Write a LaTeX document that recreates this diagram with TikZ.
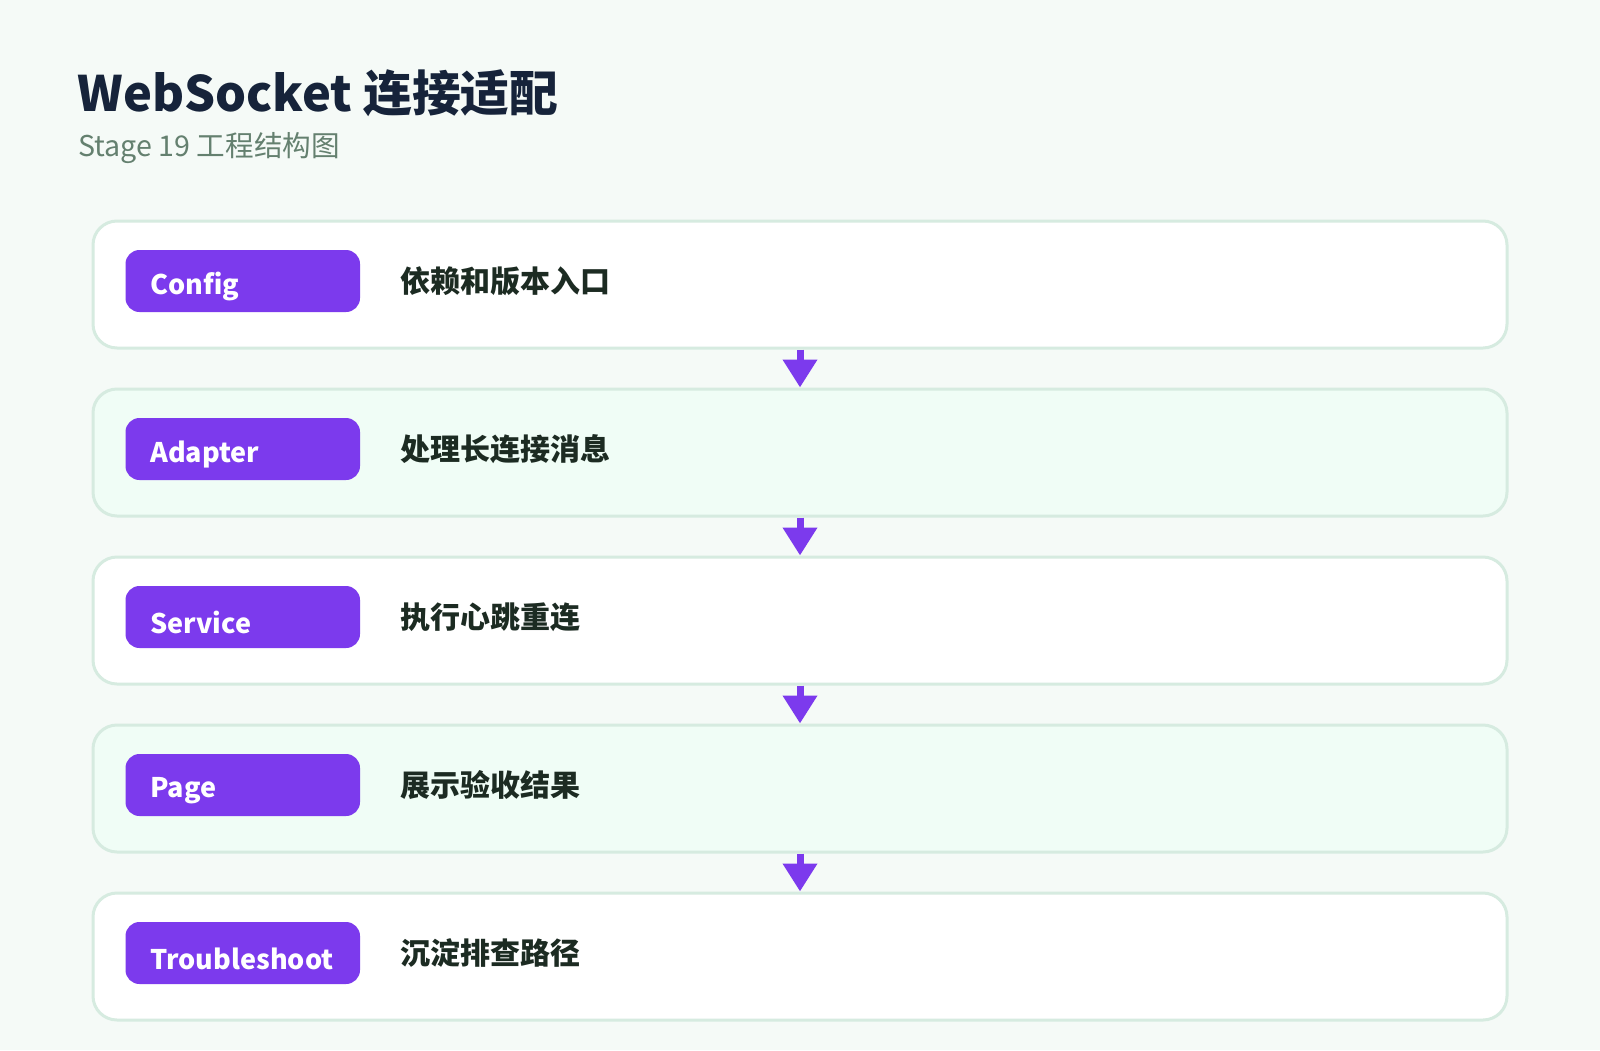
\documentclass[tikz,border=0pt]{standalone}
\usepackage{fontspec}
\setmainfont{Noto Sans CJK SC}
\usetikzlibrary{arrows.meta}
\definecolor{bg}{HTML}{F5FAF7}
\definecolor{cardmint}{HTML}{F0FDF6}
\definecolor{cardline}{HTML}{D6EBE0}
\definecolor{pill}{HTML}{7C3AED}
\definecolor{titlec}{HTML}{16233A}
\definecolor{subc}{HTML}{64806F}
\definecolor{descc}{HTML}{1C2B22}
\tikzset{
  cardbox/.style={draw=cardline, line width=1.5pt, rounded corners=12pt, minimum width=707pt, minimum height=63.5pt, inner sep=0pt},
  pillbox/.style={fill=pill, rounded corners=7pt, minimum width=117.25pt, minimum height=31pt, inner sep=0pt},
  pilltext/.style={anchor=west, inner sep=0pt, text=white, font=\bfseries\fontsize{13.5pt}{16pt}\selectfont},
  desctext/.style={anchor=west, inner sep=0pt, text=descc, font=\bfseries\fontsize{15pt}{18pt}\selectfont},
  flow/.style={draw=pill, line width=3.5pt, -{Triangle[length=14pt,width=16.5pt]}}
}
\begin{document}
\begin{tikzpicture}[x=0.5pt,y=-0.5pt]
\fill[bg] (0,0) rectangle (1600,1050);
\useasboundingbox (0,0) rectangle (1600,1050);
\node[anchor=base west, inner sep=0pt, text=titlec, font=\bfseries\fontsize{24.4pt}{28pt}\selectfont] (title) at (77,111) {WebSocket 连接适配};
\node[anchor=base west, inner sep=0pt, text=subc, font=\fontsize{14.3pt}{17pt}\selectfont] (subtitle) at (78,156) {Stage 19 工程结构图};
\foreach \i/\lab/\desc/\fc in {0/Config/依赖和版本入口/white, 1/Adapter/处理长连接消息/cardmint, 2/Service/执行心跳重连/white, 3/Page/展示验收结果/cardmint, 4/Troubleshoot/沉淀排查路径/white}{
  \node[cardbox, fill=\fc] (card\i) at (800,{284.5+168*\i}) {};
  \node[pillbox] (pill\i) at (242.75,{281+168*\i}) {};
  \node[pilltext] (lab\i) at (150,{286.5+168*\i}) {\lab};
  \node[desctext] (desc\i) at (400,{281+168*\i}) {\desc};
}
\foreach \i [evaluate=\i as \j using int(\i+1)] in {0,1,2,3}{
  \draw[flow] (card\i.south) -- (card\j.north);
}
\end{tikzpicture}
\end{document}
